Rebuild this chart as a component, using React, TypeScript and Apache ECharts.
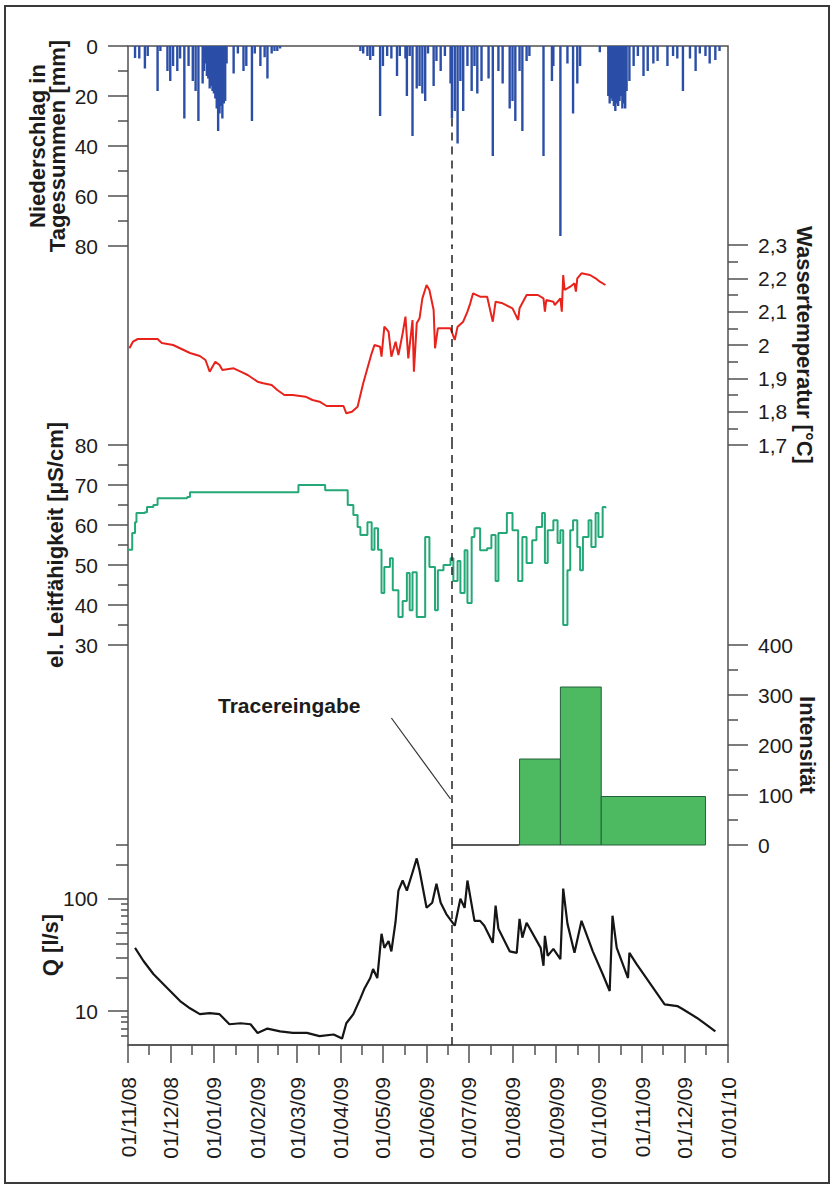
import React, { useEffect, useRef } from "react";
import * as echarts from "echarts";

const FONT = "'Liberation Sans', Arial, Helvetica, sans-serif";
const TEXT = "#1c1c1c";
const AXIS = "#505050";

// x values: days since 01/11/2008
const xMin = 0;
const xMax = 426;
const monthStartDays = [0, 30, 61, 92, 120, 151, 181, 212, 242, 273, 304, 334, 365, 395, 426];
const monthLabels = [
  "01/11/08", "01/12/08", "01/01/09", "01/02/09", "01/03/09", "01/04/09", "01/05/09",
  "01/06/09", "01/07/09", "01/08/09", "01/09/09", "01/10/09", "01/11/09", "01/12/09", "01/01/10",
];
const tracerDay = 230;

// daily precipitation [day, mm]
const precipitation = [
  [5, 4.8], [8, 5], [12, 9], [14, 4], [21, 18], [23, 2], [28, 10], [30, 14], [32, 8], [35, 10],
  [37, 5], [40, 29], [43, 8], [46, 14], [48, 18], [50, 30], [53, 15], [54, 10], [55, 7], [56, 12],
  [57, 13], [58, 17], [59, 16], [60, 18], [61, 19], [62, 21], [63, 25], [64, 34], [65, 27], [66, 24],
  [67, 29], [68, 23], [69, 22], [70, 7], [75, 11], [78, 3], [82, 10], [84, 8], [88, 30], [90, 3],
  [94, 8], [97, 4.5], [99, 13], [102, 3], [104, 2], [106, 2], [108, 1],
  [165, 2], [167, 3], [170, 4], [172, 5.6], [174, 4], [179, 28], [181, 8], [184, 4], [187, 5],
  [191, 12], [193, 4], [197, 5], [198, 20], [200, 4], [202, 36], [205, 17], [207, 16], [209, 19],
  [211, 22], [213, 3], [217, 16], [219, 6], [222, 10], [225, 4], [229, 15], [230, 29], [232, 26],
  [234, 39], [236, 14], [238, 26], [241, 8], [244, 18], [246, 8], [248, 19], [251, 14], [256, 13],
  [259, 44], [263, 10], [266, 15], [271, 25], [273, 22], [275, 30], [278, 10], [280, 34], [283, 6],
  [285, 4], [295, 44], [301, 14], [302, 8], [307, 76], [312, 7], [316, 27], [319, 15], [321, 8],
  [335, 2.5], [341, 20], [342, 23], [343, 21], [344, 22], [345, 24], [346, 26], [347, 23], [348, 24],
  [349, 22], [350, 20], [351, 25], [352, 23], [353, 25], [354, 18], [356, 14], [359, 8], [362, 4],
  [366, 12], [369, 10], [373, 7], [376, 6], [383, 8], [387, 4], [390, 5], [394, 18], [399, 5],
  [403, 10], [406, 3], [410, 4], [413, 7], [417, 5.6], [420, 2],
];

// water temperature [day, °C]
const temperature = [
  [1, 1.99], [3.5, 2.01], [7, 2.018], [21, 2.018], [24, 2.006], [32, 2.0], [38, 1.988], [44, 1.976],
  [51, 1.967], [55, 1.955], [58, 1.92], [62, 1.95], [65, 1.94], [67, 1.925], [75, 1.93], [80, 1.92],
  [85, 1.91], [92, 1.89], [96, 1.885], [102, 1.88], [106, 1.865], [111, 1.85], [117, 1.85],
  [126, 1.845], [131, 1.835], [136, 1.83], [141, 1.817], [153, 1.817], [155, 1.795], [159, 1.8],
  [163, 1.815], [167, 1.885], [170, 1.93], [173, 1.975], [175, 2.0], [179, 1.995], [180, 1.965],
  [182, 2.055], [185, 2.04], [187, 1.965], [190, 2.01], [192, 1.97], [195, 2.035], [197, 2.085],
  [199, 1.96], [202, 2.075], [203, 1.92], [205, 2.065], [207, 2.08], [209, 2.14], [212, 2.18],
  [214, 2.165], [217, 2.105], [218, 1.99], [220, 2.05], [229, 2.05], [232, 2.015], [234, 2.055],
  [238, 2.07], [241, 2.1], [243, 2.125], [245, 2.155], [250, 2.145], [255, 2.145], [259, 2.07],
  [261, 2.13], [266, 2.125], [273, 2.11], [277, 2.075], [278, 2.11], [283, 2.15], [291, 2.15],
  [295, 2.14], [296, 2.1], [297, 2.135], [302, 2.13], [303, 2.12], [307, 2.14], [308, 2.1],
  [309, 2.21], [310, 2.165], [314, 2.175], [317, 2.185], [318, 2.16], [319, 2.2], [322, 2.215],
  [328, 2.21], [332, 2.2], [335, 2.19], [339, 2.18],
];

// electrical conductivity [day, µS/cm]
const conductivity = [
  [0, 53.8], [3, 58], [5, 60.7], [6, 63], [12, 63.2], [13.5, 64.5], [18, 65], [21, 66.7], [42, 67],
  [44, 68.2], [120, 68.2], [121, 70], [138, 70], [140, 68.7], [154, 68.7], [156, 65], [160, 62.5],
  [163, 59.5], [165, 57.5], [168, 57.5], [170, 60.7], [173, 53.8], [175, 59.2], [177.5, 53.8],
  [180, 43], [182, 49.5], [186, 51.7], [188, 43.7], [192, 37], [195, 41], [198, 48], [200, 38.7],
  [202, 48.2], [205, 37], [211, 57], [214, 49.5], [218, 38.7], [220, 48.7], [224, 50], [229, 51.7],
  [231, 46], [234, 51], [236, 43], [239, 53.7], [241, 40.5], [244, 57], [246, 59.2], [250, 53.7],
  [255, 54.2], [258, 57.5], [261, 46], [263, 58], [269, 63], [273, 58.7], [276, 58.7], [277, 46],
  [280, 57], [283, 50.5], [287, 56.2], [290, 59.5], [294, 63], [296, 50.5], [298, 58.7], [302, 61.2],
  [305, 55.5], [307, 58.7], [309, 35], [312, 48.7], [314, 58.7], [316, 61.2], [319, 54.5],
  [321, 48.7], [323, 57], [327, 61.2], [329, 54.5], [332, 63], [334, 57], [337, 64.5], [339, 64.2],
];

// tracer intensity [startDay, endDay, intensity]
const intensity = [
  [230, 278, 0],
  [278, 307, 172],
  [307, 336, 316],
  [336, 410, 97],
];

// leader line for the "Tracereingabe" annotation [day, intensity]
const leaderLine = [
  [187, 254],
  [229, 92],
];

// discharge Q [day, l/s]
const discharge = [
  [5, 36.5], [11, 27.9], [18, 21.4], [28, 16], [37, 12.3], [44, 10.6], [51, 9.4], [58, 9.6], [65, 9.4],
  [72, 7.65], [80, 7.8], [87, 7.65], [92, 6.4], [99, 7.0], [108, 6.6], [117, 6.4], [127, 6.4],
  [136, 6.0], [146, 6.2], [152, 5.7], [155, 7.8], [160, 9.4], [165, 13], [168, 16], [172, 19.7],
  [174, 23.7], [177, 19.7], [180, 48.7], [182, 36.5], [185, 42], [187, 34], [190, 63], [192, 118],
  [195, 145], [198, 118], [202, 171], [205, 228], [207, 178], [212, 83], [216, 92], [219, 136],
  [222, 92], [226, 73], [232, 57.5], [236, 100], [239, 83], [241, 145], [246, 63.5], [250, 63.5],
  [253, 57.5], [259, 40.5], [261, 86.6], [263, 54], [271, 34], [276, 33], [278, 66], [280, 45],
  [283, 61], [293, 36.5], [295, 25.3], [296, 46.7], [298, 31], [302, 35.8], [307, 29], [309, 123],
  [312, 60], [317, 33], [322, 63.5], [330, 34], [337, 21.4], [342, 15.1], [344, 70.5], [347, 36.5],
  [355, 19.7], [356, 33], [361, 26.3], [371, 17.4], [381, 11.5], [390, 11.1], [394, 10.4],
  [404, 8.7], [412, 7.35], [417, 6.6],
];

// tick values
const precipTicks = { min: 0, max: 80, interval: 20 };
const tempTicks = { min: 1.7, max: 2.3, interval: 0.1 };
const condTicks = { min: 30, max: 80, interval: 10 };
const intensTicks = { min: 0, max: 400, interval: 100 };
const qRange = { min: 5, max: 300 };
const qMajorTicks = [10, 100];
const qMidTicks = [20, 30, 40, 50, 200, 300];
const qMinorTicks = [6, 7, 8, 9, 60, 70, 80, 90];

const midMonthDays = monthStartDays.slice(0, -1).map((d, i) => (d + monthStartDays[i + 1]) / 2);

const tickLine = { color: AXIS, width: 1.5 };
const labelStyle = { fontSize: 21, color: TEXT, fontFamily: FONT };
const nameStyle = { fontSize: 22, fontWeight: "bold" as const, color: TEXT, fontFamily: FONT, lineHeight: 21 };
const dashStyle = { type: [8, 6] as number[], color: "#222", width: 1.5 };

function tracerMark(data: any[]) {
  return {
    silent: true,
    symbol: ["none", "none"],
    label: { show: false },
    lineStyle: dashStyle,
    emphasis: { disabled: true },
    data,
  };
}

function hiddenX(gridIndex: number) {
  return { type: "value", gridIndex, min: xMin, max: xMax, show: false, axisLine: { onZero: false } };
}

function linearY(gridIndex: number, position: string, t: any, extra: any) {
  return {
    type: "value",
    gridIndex,
    position,
    min: t.min,
    max: t.max,
    interval: t.interval,
    axisLine: { show: false, onZero: false },
    axisTick: { show: true, length: 20, lineStyle: tickLine },
    minorTick: { show: true, splitNumber: 2, length: 10, lineStyle: tickLine },
    splitLine: { show: false },
    minorSplitLine: { show: false },
    axisLabel: { ...labelStyle, margin: 30 },
    nameLocation: "middle",
    nameMoveOverlap: false,
    nameTextStyle: nameStyle,
    ...extra,
  };
}

function qAxis(values: number[], len: number, withLabel: boolean, extra: any = {}) {
  return {
    type: "log",
    logBase: 10,
    gridIndex: 5,
    position: "left",
    min: qRange.min,
    max: qRange.max,
    axisLine: { show: false, onZero: false },
    axisTick: { show: true, length: len, customValues: values, lineStyle: tickLine },
    axisLabel: withLabel ? { ...labelStyle, margin: 30, customValues: values } : { show: false },
    splitLine: { show: false },
    minorTick: { show: false },
    ...extra,
  };
}

function buildOption(): any {
  const grids = [
    { left: 128, top: 46, width: 600, height: 999, show: true, borderColor: AXIS, borderWidth: 1.5, backgroundColor: "transparent" },
    { left: 128, top: 46, width: 600, height: 200 },
    { left: 128, top: 245, width: 600, height: 200 },
    { left: 128, top: 445, width: 600, height: 200 },
    { left: 128, top: 645, width: 600, height: 200 },
    { left: 128, top: 845, width: 600, height: 200 },
  ];

  const xAxis = [
    { type: "value", gridIndex: 0, min: 0, max: 1, show: false },
    hiddenX(1),
    hiddenX(2),
    hiddenX(3),
    hiddenX(4),
    {
      type: "value",
      gridIndex: 5,
      position: "bottom",
      min: xMin,
      max: xMax,
      axisLine: { show: true, onZero: false, lineStyle: tickLine },
      axisTick: { show: true, length: 18, customValues: monthStartDays, lineStyle: tickLine },
      axisLabel: {
        ...labelStyle,
        customValues: monthStartDays,
        rotate: 90,
        margin: 32,
        formatter: (v: number) => {
          const i = monthStartDays.indexOf(Math.round(v));
          return i >= 0 ? monthLabels[i] : "";
        },
      },
      splitLine: { show: false },
    },
    {
      type: "value",
      gridIndex: 5,
      position: "bottom",
      min: xMin,
      max: xMax,
      axisLine: { show: false, onZero: false },
      axisTick: { show: true, length: 10, customValues: midMonthDays, lineStyle: tickLine },
      axisLabel: { show: false },
      splitLine: { show: false },
    },
  ];

  const yAxis = [
    { type: "value", gridIndex: 0, min: 0, max: 1, show: false },
    linearY(1, "left", precipTicks, {
      inverse: true,
      name: "Niederschlag in\nTagessummen [mm]",
      nameGap: 61,
      nameTextStyle: { ...nameStyle, lineHeight: 20 },
    }),
    linearY(2, "right", tempTicks, {
      name: "Wassertemperatur [°C]",
      nameGap: 66,
      nameRotate: -90,
      axisLabel: {
        ...labelStyle,
        margin: 30,
        formatter: (v: number) => String(Number(v.toFixed(2))).replace(".", ","),
      },
    }),
    linearY(3, "left", condTicks, {
      name: "el. Leitfähigkeit [µS/cm]",
      nameGap: 62,
    }),
    linearY(4, "right", intensTicks, {
      name: "Intensität",
      nameGap: 69,
      nameRotate: -90,
    }),
    qAxis(qMajorTicks, 20, true, {
      name: "Q [l/s]",
      nameLocation: "middle",
      nameMoveOverlap: false,
      nameGap: 67,
      nameTextStyle: nameStyle,
    }),
    qAxis(qMidTicks, 12, false),
    qAxis(qMinorTicks, 7, false),
  ];

  const series = [
    {
      type: "bar",
      name: "Niederschlag",
      xAxisIndex: 1,
      yAxisIndex: 1,
      data: precipitation,
      barWidth: 2.4,
      itemStyle: { color: "#2b4ea7" },
      markLine: tracerMark([[{ coord: [tracerDay, 29] }, { coord: [tracerDay, 80] }]]),
    },
    {
      type: "line",
      name: "Wassertemperatur",
      xAxisIndex: 2,
      yAxisIndex: 2,
      data: temperature,
      symbol: "none",
      lineStyle: { color: "#e8231c", width: 2 },
      markLine: tracerMark([{ xAxis: tracerDay }]),
    },
    {
      type: "line",
      name: "Leitfähigkeit",
      xAxisIndex: 3,
      yAxisIndex: 3,
      data: conductivity,
      step: "end",
      symbol: "none",
      lineStyle: { color: "#25a877", width: 2 },
      markLine: tracerMark([{ xAxis: tracerDay }]),
    },
    {
      type: "custom",
      name: "Intensität",
      xAxisIndex: 4,
      yAxisIndex: 4,
      data: intensity,
      encode: { x: [0, 1], y: 2 },
      renderItem: (_params: any, api: any) => {
        const start = api.value(0);
        const end = api.value(1);
        const v = api.value(2);
        const p1 = api.coord([start, v]);
        const p2 = api.coord([end, 0]);
        if (v === 0) {
          return {
            type: "line",
            shape: { x1: p1[0], y1: p2[1], x2: p2[0], y2: p2[1] },
            style: { stroke: "#222", lineWidth: 1.3 },
          };
        }
        return {
          type: "rect",
          shape: { x: p1[0], y: p1[1], width: p2[0] - p1[0], height: p2[1] - p1[1] },
          style: { fill: "#4dba62", stroke: "#24603a", lineWidth: 1 },
        };
      },
    },
    {
      type: "line",
      name: "Tracereingabe",
      xAxisIndex: 4,
      yAxisIndex: 4,
      data: leaderLine,
      symbol: "none",
      lineStyle: { color: "#333", width: 1.2 },
      markLine: tracerMark([{ xAxis: tracerDay }]),
    },
    {
      type: "line",
      name: "Q",
      xAxisIndex: 5,
      yAxisIndex: 5,
      data: discharge,
      symbol: "none",
      lineStyle: { color: "#151515", width: 2.2 },
      markLine: tracerMark([{ xAxis: tracerDay }]),
    },
  ];

  return {
    animation: false,
    backgroundColor: "#ffffff",
    grid: grids,
    xAxis,
    yAxis,
    series,
    graphic: [
      {
        type: "rect",
        silent: true,
        shape: { x: 5, y: 6, width: 824, height: 1177 },
        style: { fill: "none", stroke: "#3a3a3a", lineWidth: 2 },
      },
      {
        type: "text",
        silent: true,
        x: 218,
        y: 705,
        style: {
          text: "Tracereingabe",
          fontSize: 21,
          fontWeight: "bold",
          fontFamily: FONT,
          fill: TEXT,
          verticalAlign: "middle",
        },
      },
    ],
  };
}

export default function App() {
  const ref = useRef<HTMLDivElement>(null);
  useEffect(() => {
    if (!ref.current) return;
    const chart = echarts.init(ref.current, null, { renderer: "svg" });
    chart.setOption(buildOption());
    return () => chart.dispose();
  }, []);
  return (
    <div
      ref={ref}
      style={{ position: "absolute", left: 0, top: 0, width: 834, height: 1188, background: "#fff" }}
    />
  );
}
